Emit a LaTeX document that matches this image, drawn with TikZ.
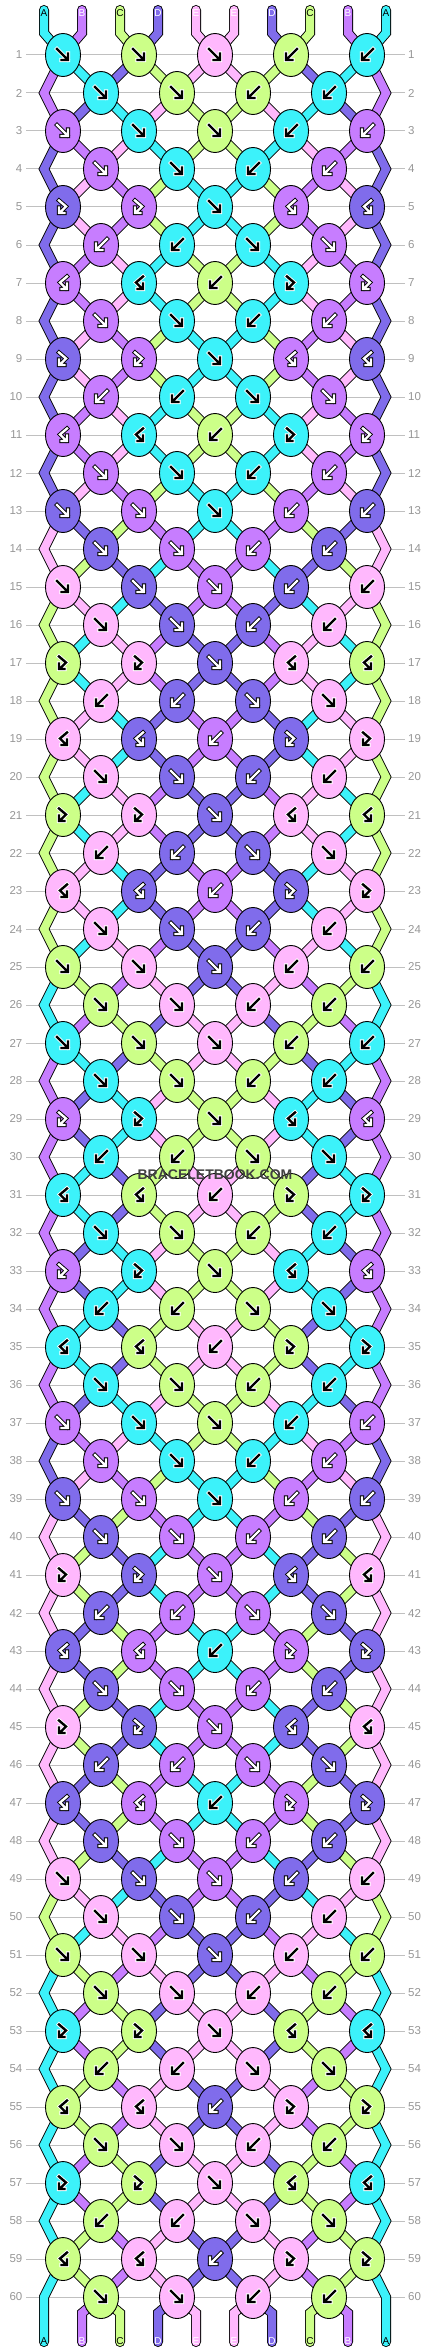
\documentclass[tikz,border=0pt]{standalone}
\usepackage{fontspec}
\setmainfont{Liberation Sans}
\usetikzlibrary{shapes.geometric}
\definecolor{colA}{RGB}{60,242,250}
\definecolor{colB}{RGB}{199,125,255}
\definecolor{colC}{RGB}{204,255,136}
\definecolor{colD}{RGB}{128,108,235}
\definecolor{colE}{RGB}{255,184,253}
\definecolor{rowgray}{RGB}{192,192,192}
\definecolor{numgray}{RGB}{150,150,150}
\definecolor{markgray}{RGB}{64,64,64}
\pgfdeclarelayer{grid}
\pgfdeclarelayer{strands}
\pgfsetlayers{grid,strands,main}
% letter colour on each thread end
\def\txtA{black}\def\txtB{white}\def\txtC{black}\def\txtD{white}\def\txtE{white}
% knots f and b swap the two threads, r and l keep them
\newcommand\swapthreads{%
  \expandafter\xdef\csname s\pl\endcsname{\sr}%
  \expandafter\xdef\csname s\pr\endcsname{\sl}}

\begin{document}
\begin{tikzpicture}[x=1pt,y=-1pt]
        \tikzset{knot/.style = {shape=ellipse,draw,line width=0.9,minimum width=35,minimum height=43,inner sep=0}}
        \tikzset{strand/.style = {draw=black,line width=0.9,double=#1,double distance=8.2,line cap=round,line join=miter}}
        \tikzset{rowline/.style = {draw=rowgray,line width=1}}
        \tikzset{rownum/.style = {text=numgray,font=\fontsize{11.5}{12}\selectfont,inner sep=0}}
        \tikzset{endlabel/.style = {font=\fontsize{10}{10}\selectfont,inner sep=0}}
        \tikzset{glyph f/.pic = {\path[pic actions,line cap=rect,line join=miter] (-6,-6)--(4.5,4.5) (5,-1.5)--(5,5)--(-1.5,5);}}
        \tikzset{glyph b/.pic = {\path[pic actions,line cap=rect,line join=miter] (6,-6)--(-4.5,4.5) (-5,-1.5)--(-5,5)--(1.5,5);}}
        \tikzset{glyph r/.pic = {\path[pic actions,line cap=rect,line join=miter] (-4,-6.5)--(3,-0.5)--(-3,5.5) (-4,0.5)--(-4,6)--(1.5,6);}}
        \tikzset{glyph l/.pic = {\path[pic actions,line cap=rect,line join=miter] (4,-6.5)--(-3,-0.5)--(3,5.5) (4,0.5)--(4,6)--(-1.5,6);}}
        \useasboundingbox (0,0) rectangle (430,2352);
        % row lines and numbers
        \begin{pgfonlayer}{grid}
        \foreach \r in {1,...,60}{
            \pgfmathsetmacro\y{55+38*(\r-1)}
            \node[rownum,anchor=east] (numL-\r) at (22.5,\y) {\r};
            \node[rownum,anchor=west] (numR-\r) at (408,\y) {\r};
            \draw[rowline] ([xshift=3.5]numL-\r.east |- 0,\y) -- ([xshift=-3]numR-\r.west |- 0,\y);
        }
        \end{pgfonlayer}
        % knot and edge places
        \foreach \r in {1,...,60}{
            \pgfmathsetmacro\y{55+38*(\r-1)}
            \foreach \p in {0,...,9}{
                \pgfmathsetmacro\x{mod(\r,2)==1 ? 63+76*floor(\p/2) : (\p==0 ? 44 : (\p==9 ? 386 : 101+76*floor((\p-1)/2)))}
                \coordinate (n-\r-\p) at (\x,\y);
            }
        }
        % thread ends
        \foreach \c [count=\p from 0] in {A,B,C,D,E,E,D,C,B,A}{
            \pgfmathsetmacro\x{44+38*\p}
            \coordinate (top-\p) at (\x,10);
            \coordinate (tbend-\p) at (\x,33);
            \coordinate (bbend-\p) at (\x,2313);
            \coordinate (bot-\p) at (\x,2342);
            \expandafter\xdef\csname s\p\endcsname{\c}
            \edef\tc{\csname txt\c\endcsname}
            \begin{pgfonlayer}{strands}
            \draw[strand=col\c] (top-\p) -- (tbend-\p) -- (n-1-\p);
            \end{pgfonlayer}
            \node[endlabel,text=\tc] (topL-\p) at (\x,13) {\c};
            \node[endlabel,text=\tc] (botL-\p) at (\x,2341) {\c};
        }
        % rows of knots
        \foreach \types [count=\r] in {
            {f,f,f,b,b},{f,f,b,b},{f,f,f,b,b},{f,f,b,b},{r,r,f,l,l},{b,b,f,f},
            {l,l,b,r,r},{f,f,b,b},{r,r,f,l,l},{b,b,f,f},{l,l,b,r,r},{f,f,b,b},
            {f,f,f,b,b},{f,f,b,b},{f,f,f,b,b},{f,f,b,b},{r,r,f,l,l},{b,b,f,f},
            {l,l,b,r,r},{f,f,b,b},{r,r,f,l,l},{b,b,f,f},{l,l,b,r,r},{f,f,b,b},
            {f,f,f,b,b},{f,f,b,b},{f,f,f,b,b},{f,f,b,b},{r,r,f,l,l},{b,b,f,f},
            {l,l,b,r,r},{f,f,b,b},{r,r,f,l,l},{b,b,f,f},{l,l,b,r,r},{f,f,b,b},
            {f,f,f,b,b},{f,f,b,b},{f,f,f,b,b},{f,f,b,b},{r,r,f,l,l},{b,b,f,f},
            {l,l,b,r,r},{f,f,b,b},{r,r,f,l,l},{b,b,f,f},{l,l,b,r,r},{f,f,b,b},
            {f,f,f,b,b},{f,f,b,b},{f,f,f,b,b},{f,f,b,b},{r,r,f,l,l},{b,b,f,f},
            {l,l,b,r,r},{f,f,b,b},{r,r,f,l,l},{b,b,f,f},{l,l,b,r,r},{f,f,b,b}}{
            \pgfmathtruncatemacro\off{1-mod(\r,2)}
            \pgfmathtruncatemacro\rn{\r+1}
            \pgfmathtruncatemacro\rp{\r-1}
            % outer threads bend out on even rows
            \ifodd\r\else
                \edef\cleft{\csname s0\endcsname}\edef\cright{\csname s9\endcsname}
                \ifnum\r<60 \def\nextL{n-\rn-0}\def\nextR{n-\rn-9}\else\def\nextL{bot-0}\def\nextR{bot-9}\fi
                \begin{pgfonlayer}{strands}
                \draw[strand=col\cleft] (n-\rp-0) -- (n-\r-0) -- (\nextL);
                \draw[strand=col\cright] (n-\rp-9) -- (n-\r-9) -- (\nextR);
                \end{pgfonlayer}
            \fi
            \foreach \t [count=\k from 0] in \types {
                \pgfmathtruncatemacro\pl{2*\k+\off}
                \pgfmathtruncatemacro\pr{\pl+1}
                \edef\sl{\csname s\pl\endcsname}
                \edef\sr{\csname s\pr\endcsname}
                \edef\kc{\if\t f\sl\else\if\t r\sl\else\sr\fi\fi}
                \edef\fg{\if\kc Bwhite\else\if\kc Dwhite\else black\fi\fi}
                \edef\bg{\if\kc Bblack\else\if\kc Dblack\else white\fi\fi}
                \node[knot,fill=col\kc] (knot-\r-\k) at (n-\r-\pl) {};
                \edef\doglyph{\noexpand\pic[draw=\bg,line width=4.2] at (n-\r-\pl) {glyph \t};
                    \noexpand\pic[draw=\fg,line width=2.4] at (n-\r-\pl) {glyph \t};}
                \doglyph
                \if\t f\swapthreads\fi
                \if\t b\swapthreads\fi
            }
            % threads down to the next row
            \begin{pgfonlayer}{strands}
            \foreach \p in {1,...,8}{
                \edef\c{\csname s\p\endcsname}
                \ifnum\r<60 \draw[strand=col\c] (n-\r-\p) -- (n-\rn-\p);
                \else \draw[strand=col\c] (n-\r-\p) -- (bbend-\p) -- (bot-\p);
                \fi
            }
            \end{pgfonlayer}
        }
        \node[font=\bfseries\fontsize{14}{14}\selectfont,text=markgray,inner sep=0] (mark) at (215,1175) {BRACELETBOOK.COM};
\end{tikzpicture}
\end{document}
